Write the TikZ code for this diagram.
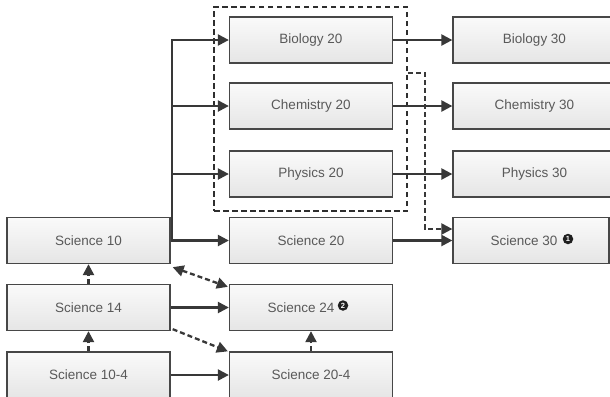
\documentclass[tikz,border=0pt]{standalone}
\usepackage{fontspec}
\setmainfont{Liberation Sans}
\usetikzlibrary{arrows.meta,fit}
\begin{document}
\begin{tikzpicture}[x=1bp,y=-1bp,
  course/.style={draw=black!72, line width=1.3bp, top color=black!2, bottom color=black!10,
    minimum width=163bp, minimum height=46bp, inner sep=0pt,
    font=\fontsize{13.5bp}{16bp}\selectfont, text=black!65},
  notemark/.style={circle, fill=black!88, text=white, inner sep=0pt, minimum size=10.5bp,
    font=\bfseries\fontsize{7.5bp}{8bp}\selectfont},
  flow/.style={line width=2.3bp, draw=black!78, -{Triangle[length=11bp,width=11bp]}},
  optflow/.style={flow, dash pattern=on 5bp off 3bp},
  group/.style={draw=black!82, line width=2.1bp, dash pattern=on 5.5bp off 3.5bp, inner sep=0pt}
]
\useasboundingbox (0,0) rectangle (610,396);
\begin{scope}
\clip (0,0) rectangle (610,396);
\node[course] (s10)  at (88.5,240.5) {Science 10};
\node[course] (s14)  at (88.5,307.5) {Science 14};
\node[course] (s104) at (88.5,375)   {Science 10-4};
\node[course] (bio20)  at (311,40)    {Biology 20};
\node[course] (chem20) at (311,106)   {Chemistry 20};
\node[course] (phy20)  at (311,174)   {Physics 20};
\node[course] (s20)    at (311,240.5) {Science 20};
\node[course] (s24)    at (311,307.5) {\hspace*{-20bp}Science 24};
\node[course] (s204)   at (311,375)   {Science 20-4};
\node[course] (bio30)  at (534.5,40)  {Biology 30};
\node[course] (chem30) at (534.5,106) {Chemistry 30};
\node[course] (phy30)  at (534.5,174) {Physics 30};
\node[course, minimum width=156bp] (s30) at (531,240.5) {\hspace*{-14bp}Science 30};
\end{scope}
\node[notemark] (m1) at (568,239) {1};
\node[notemark] (m2) at (343,305.5) {2};
\node[group, fit={(214,7) (407,211)}] (grp) {};
% trunk from Science 10
\coordinate (trunk) at ([xshift=1.5bp]s10.east);
\draw[flow] (s10) -- (s20);
\draw[flow] (trunk) |- (bio20.west);
\draw[flow] (trunk) |- (chem20.west);
\draw[flow] (trunk) |- (phy20.west);
% 20 -> 30
\draw[flow] (bio20) -- (bio30);
\draw[flow] (chem20) -- (chem30);
\draw[flow] (phy20) -- (phy30);
\draw[flow] (s20) -- (s30);
% lower rows
\draw[flow] (s14) -- (s24);
\draw[flow] (s104) -- (s204);
\draw[optflow] (s14) -- (s10);
\draw[optflow] (s104) -- (s14);
\draw[optflow] (s204) -- (s24);
\draw[optflow, {Triangle[length=11bp,width=11bp]}-{Triangle[length=11bp,width=11bp]}]
  ([shift={(2,3)}]s10.south east) -- ([shift={(-1,3)}]s24.north west);
\draw[optflow] ([shift={(2,-2)}]s14.south east) -- ([shift={(-1,0)}]s204.north west);
% from the group to Science 30
\coordinate (bend) at (425,73);
\draw[optflow] (grp.east |- bend) -- (bend) |- ([yshift=11.5bp]s30.west);
\end{tikzpicture}
\end{document}
